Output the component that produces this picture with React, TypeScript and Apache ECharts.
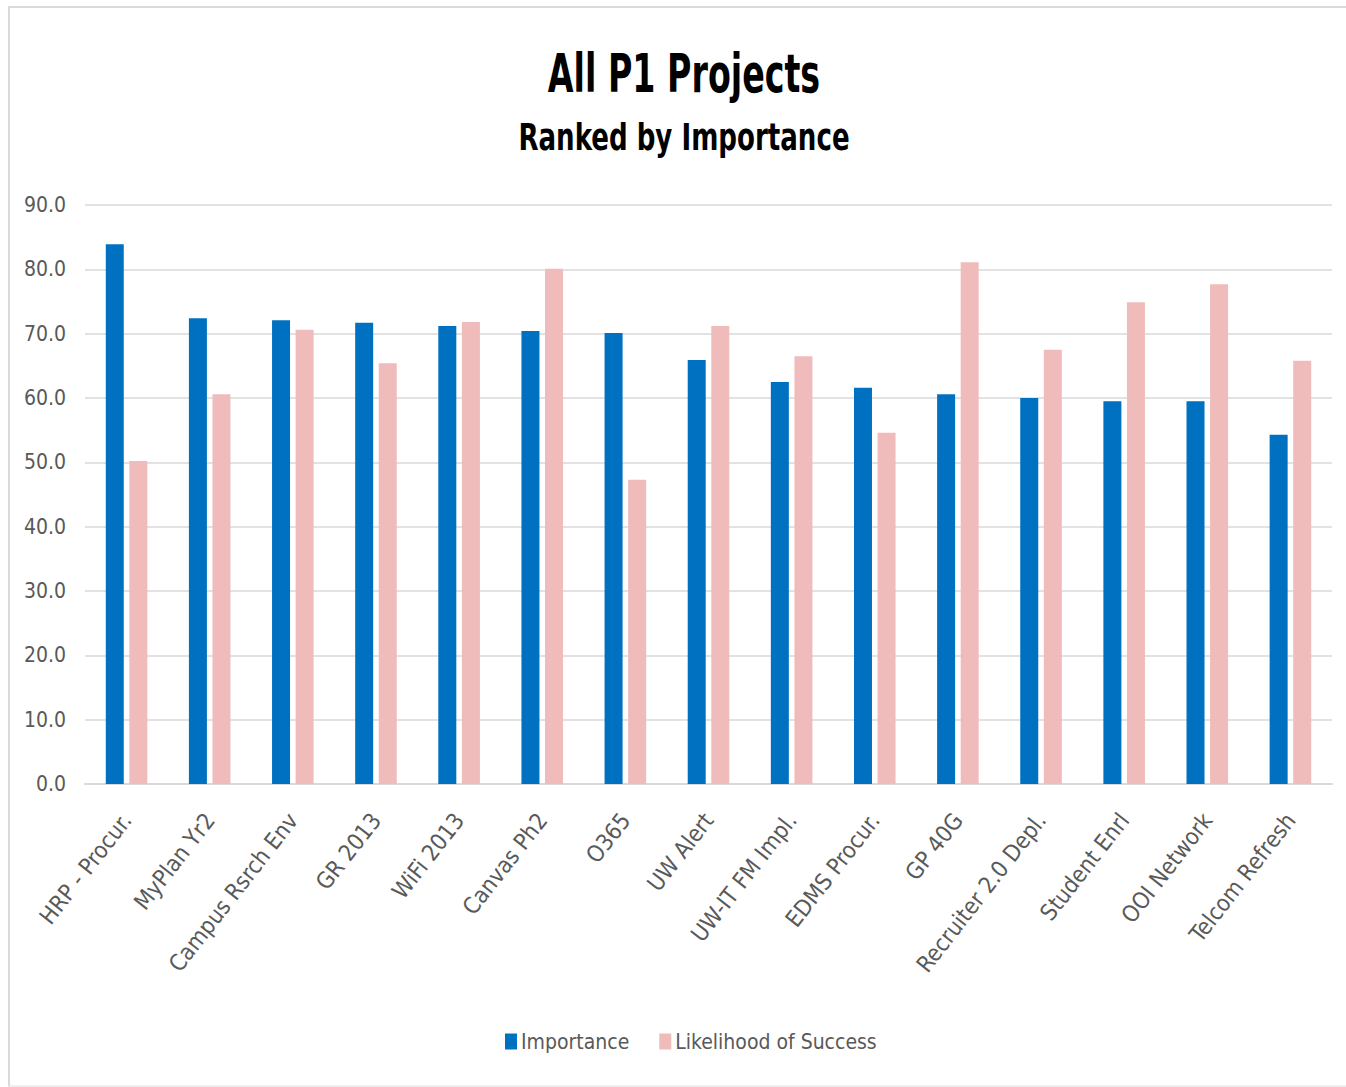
import React, { useEffect, useRef } from "react";
import * as echarts from "echarts";

const categories = [
  "HRP - Procur.", "MyPlan Yr2", "Campus Rsrch Env", "GR 2013", "WiFi 2013",
  "Canvas Ph2", "O365", "UW Alert", "UW-IT FM Impl.", "EDMS Procur.",
  "GP 40G", "Recruiter 2.0 Depl.", "Student Enrl", "OOI Network", "Telcom Refresh",
];
const importance = [83.9, 72.4, 72.1, 71.7, 71.2, 70.4, 70.1, 65.9, 62.5, 61.6, 60.6, 60.0, 59.5, 59.5, 54.3];
const likelihood = [50.2, 60.6, 70.6, 65.4, 71.8, 80.1, 47.3, 71.2, 66.5, 54.6, 81.1, 67.5, 74.9, 77.7, 65.8];
const seriesNames = ["Importance", "Likelihood of Success"];
const titleText = "All P1 Projects";
const subtitleText = "Ranked by Importance";

const FONT = "'DejaVu Sans Condensed', 'Open Sans', sans-serif";

export default function App() {
  const ref = useRef<HTMLDivElement>(null);
  useEffect(() => {
    if (!ref.current) return;
    const chart = echarts.init(ref.current, null, { renderer: "svg" });
    chart.setOption({
      animation: false,
      backgroundColor: "transparent",
      textStyle: { fontFamily: FONT },
      graphic: [
        {
          type: "text",
          x: 684,
          y: 73,
          scaleY: 1.45,
          style: {
            text: titleText,
            fontFamily: FONT,
            fontSize: 37,
            fontWeight: "bold",
            fill: "#000",
            align: "center",
            verticalAlign: "middle",
          },
        },
        {
          type: "text",
          x: 684,
          y: 137,
          scaleY: 1.3,
          style: {
            text: subtitleText,
            fontFamily: FONT,
            fontSize: 29,
            fontWeight: "bold",
            fill: "#000",
            align: "center",
            verticalAlign: "middle",
          },
        },
      ],
      legend: {
        bottom: 30,
        left: 500,
        itemWidth: 12,
        itemHeight: 16,
        itemGap: 30,
        icon: "rect",
        textStyle: { fontFamily: FONT, fontSize: 21, color: "#595959", padding: [0, 0, 0, -1] },
        data: seriesNames,
      },
      grid: { left: 85, right: 14, top: 205, bottom: 303, containLabel: false },
      xAxis: {
        type: "category",
        data: categories,
        axisLine: { lineStyle: { color: "#D9D9D9", width: 2 } },
        axisTick: { show: false },
        axisLabel: {
          rotate: 52,
          interval: 0,
          margin: 32,
          fontFamily: FONT,
          fontSize: 23,
          color: "#595959",
        },
      },
      yAxis: {
        type: "value",
        min: 0,
        max: 90,
        interval: 10,
        axisLine: { show: false },
        axisTick: { show: false },
        splitLine: { lineStyle: { color: "#D9D9D9", width: 1.5 } },
        axisLabel: {
          formatter: (v: number) => v.toFixed(1),
          fontFamily: FONT,
          fontSize: 21,
          color: "#595959",
          margin: 19,
        },
      },
      series: [
        {
          name: seriesNames[0],
          type: "bar",
          data: importance,
          barWidth: 18,
          barGap: "31%",
          itemStyle: { color: "#0070C0" },
        },
        {
          name: seriesNames[1],
          type: "bar",
          data: likelihood,
          barWidth: 18,
          itemStyle: { color: "#EFBBBB" },
        },
      ],
    });
    return () => chart.dispose();
  }, []);
  return (
    <div style={{ position: "absolute", left: 0, top: 0, width: 1346, height: 1087, background: "#fff", overflow: "hidden" }}>
      <div
        style={{
          position: "absolute",
          left: 8,
          top: 6,
          width: 1400,
          height: 1087 - 6,
          border: "2px solid #DADADA",
          borderBottom: "2px solid #EEEEEE",
          boxSizing: "border-box",
        }}
      />
      <div ref={ref} style={{ position: "absolute", left: 0, top: 0, width: 1346, height: 1087 }} />
    </div>
  );
}
